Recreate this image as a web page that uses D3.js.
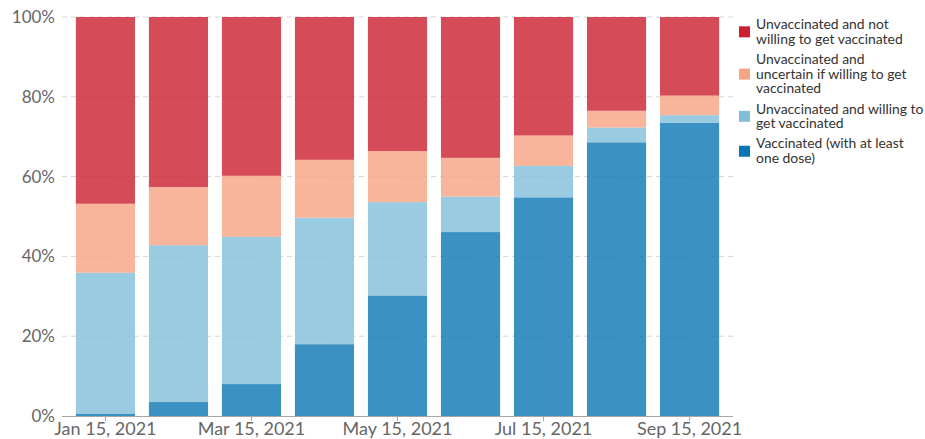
<!DOCTYPE html>
<html>
<head>
<meta charset="utf-8">
<script src="https://cdn.jsdelivr.net/npm/d3@7"></script>
<style>
  html, body { margin: 0; padding: 0; background: #fff; }
  svg { display: block; font-family: Lato, "Open Sans", sans-serif; }
</style>
</head>
<body>
<svg id="chart" width="925" height="439"></svg>
<script>
// ---- Data ----
const months = ["Jan 15, 2021", "Feb 15, 2021", "Mar 15, 2021", "Apr 15, 2021", "May 15, 2021",
                "Jun 15, 2021", "Jul 15, 2021", "Aug 15, 2021", "Sep 15, 2021"];
const vaccinated = [0.6, 3.5, 8.0, 18.0, 30.2, 46.1, 54.8, 68.6, 73.5];
const willing    = [35.3, 39.3, 36.9, 31.7, 23.4, 8.9, 7.9, 3.7, 1.9];
const uncertain  = [17.3, 14.6, 15.3, 14.5, 12.8, 9.7, 7.6, 4.2, 4.9];
const notWilling = [46.8, 42.6, 39.8, 35.8, 33.6, 35.3, 29.7, 23.5, 19.7];
const yTicks = [0, 20, 40, 60, 80, 100];
const xTickLabels = ["Jan 15, 2021", "Mar 15, 2021", "May 15, 2021", "Jul 15, 2021", "Sep 15, 2021"];
const seriesKeys = ["vaccinated", "willing", "uncertain", "notWilling"];
const legendKeys = ["notWilling", "uncertain", "willing", "vaccinated"];
const legendLines = [
  ["Unvaccinated and not", "willing to get vaccinated"],
  ["Unvaccinated and", "uncertain if willing to get", "vaccinated"],
  ["Unvaccinated and willing to", "get vaccinated"],
  ["Vaccinated (with at least", "one dose)"]
];

const colors = {
  notWilling: "#cc1e2e",
  uncertain: "#f6a383",
  willing: "#82bed8",
  vaccinated: "#0a75b3"
};

const table = months.map((m, i) => ({
  month: m,
  vaccinated: vaccinated[i],
  willing: willing[i],
  uncertain: uncertain[i],
  notWilling: notWilling[i]
}));

// ---- Layout ----
const svg = d3.select("#chart");
const x = d3.scaleBand().domain(months).range([62, 733]).paddingInner(0.19).paddingOuter(0.19);
const y = d3.scaleLinear().domain([0, 100]).range([416, 17]);

// gridlines
svg.append("g")
  .selectAll("line")
  .data(yTicks.filter(d => d > 0))
  .join("line")
  .attr("x1", 62).attr("x2", 733)
  .attr("y1", d => y(d)).attr("y2", d => y(d))
  .attr("stroke", "#d6d6d6")
  .attr("stroke-width", 1)
  .attr("stroke-dasharray", "5,4");

// y tick labels
svg.append("g")
  .selectAll("text")
  .data(yTicks)
  .join("text")
  .attr("x", 55)
  .attr("y", d => y(d))
  .attr("dy", "0.35em")
  .attr("text-anchor", "end")
  .attr("fill", "#666")
  .attr("font-size", 17)
  .text(d => d + "%");

// stacked bars
const stack = d3.stack().keys(seriesKeys);
const layers = stack(table);

svg.append("g")
  .selectAll("g")
  .data(layers)
  .join("g")
  .attr("fill", d => colors[d.key])
  .attr("fill-opacity", 0.8)
  .selectAll("rect")
  .data(d => d)
  .join("rect")
  .attr("x", d => x(d.data.month))
  .attr("width", x.bandwidth())
  .attr("y", d => y(d[1]))
  .attr("height", d => y(d[0]) - y(d[1]));

// x axis
const xAxis = d3.axisBottom(x).tickValues(xTickLabels).tickSize(5).tickSizeOuter(0);
const gx = svg.append("g")
  .attr("transform", `translate(0,${y(0)})`)
  .call(xAxis);
gx.select(".domain").attr("stroke", "#a6a6a6").attr("d", `M62,0.5H733`);
gx.selectAll(".tick line").attr("stroke", "#a6a6a6");
gx.selectAll(".tick text")
  .attr("fill", "#666")
  .attr("font-size", 18)
  .attr("font-family", "Lato, sans-serif")
  .attr("y", 19)
  .attr("dy", "0");

// legend
const legend = svg.append("g").attr("class", "legend");
const lineH = 14.7;
let cursorY = 29;
legendKeys.forEach((k, i) => {
  const lines = legendLines[i];
  const firstBase = cursorY;
  const lastBase = cursorY + (lines.length - 1) * lineH;
  const center = (firstBase + lastBase) / 2 - 4.5;
  legend.append("rect")
    .attr("x", 739).attr("y", center - 5.5)
    .attr("width", 11).attr("height", 11)
    .attr("fill", colors[k]);
  const t = legend.append("text")
    .attr("x", 756)
    .attr("y", firstBase)
    .attr("fill", "#333")
    .attr("font-size", 13.9);
  lines.forEach((ln, j) => {
    t.append("tspan").attr("x", 756).attr("y", firstBase + j * lineH).text(ln);
  });
  cursorY = lastBase + 20.2;
});
</script>
</body>
</html>
